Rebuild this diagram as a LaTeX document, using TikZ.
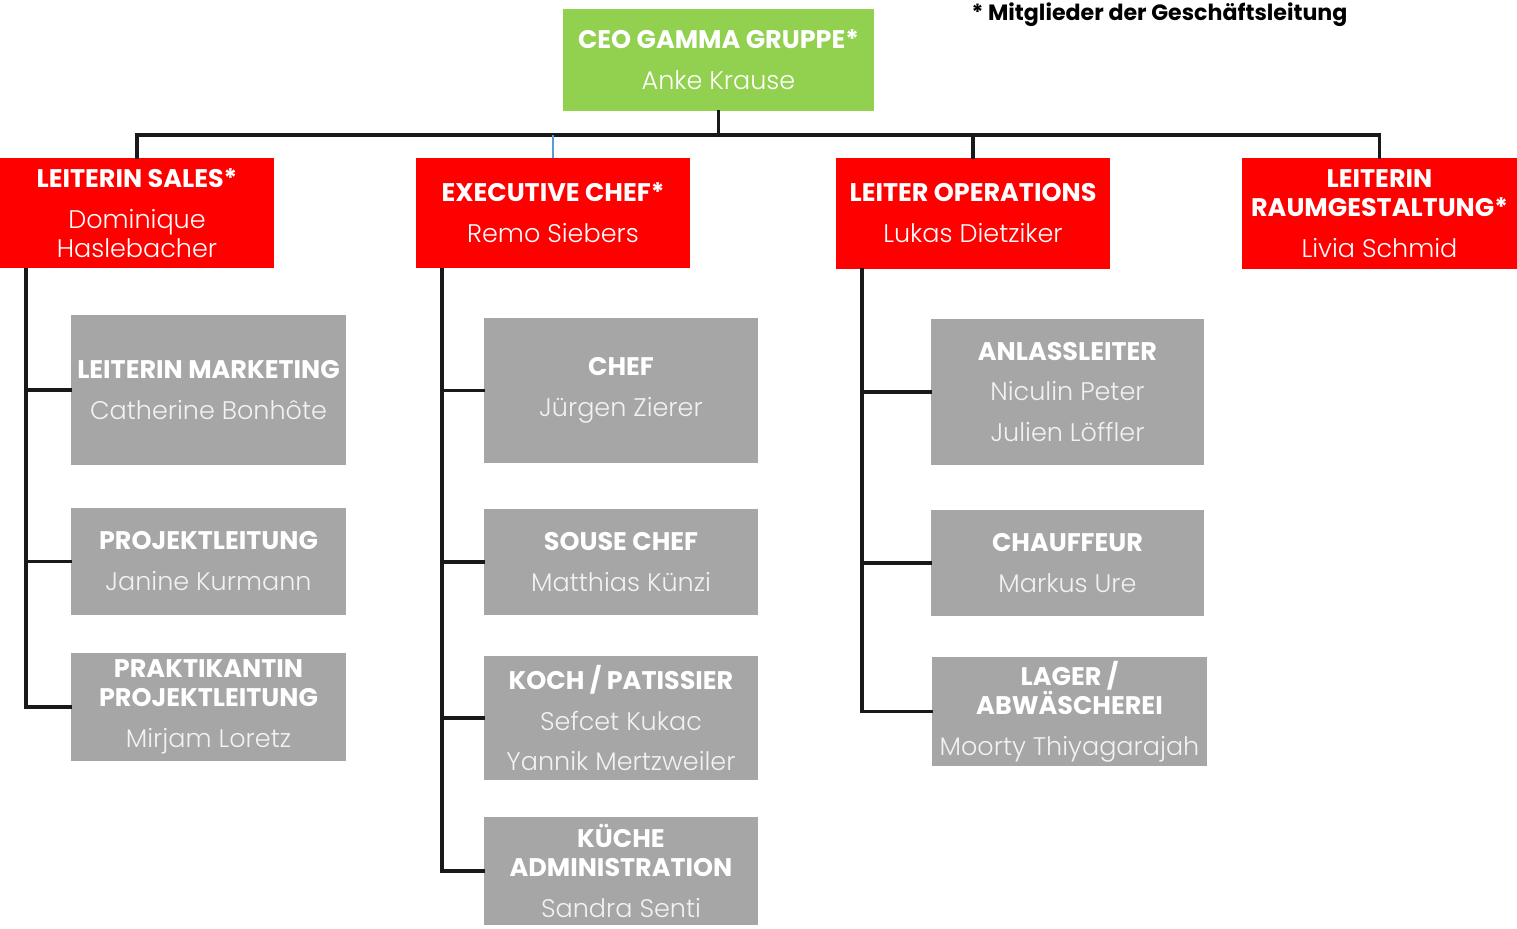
\documentclass[tikz,border=0pt]{standalone}
\usepackage{fontspec}
\setmainfont{Poppins}
\newfontfamily\namefont{Poppins}[UprightFont=* Light]
\begin{document}
\definecolor{ceogreen}{HTML}{92D050}
\definecolor{leadred}{HTML}{FF0000}
\definecolor{staffgray}{HTML}{A6A6A6}
\definecolor{namegray}{HTML}{F2F2F2}
\definecolor{linkblue}{HTML}{5B9BD5}
\begin{tikzpicture}[x=0.02cm, y=-0.02cm,
  box/.style={draw=none, align=center, inner sep=0pt,
    font={\fontsize{14.5}{16.5}\selectfont}},
  ceobox/.style={box, fill=ceogreen, minimum width=6.22cm, minimum height=2.04cm},
  leadbox/.style={box, fill=leadred, minimum width=5.48cm, minimum height=2.2cm},
  staffbox/.style={box, fill=staffgray, minimum width=5.48cm},
  conn/.style={line width=1.8pt, color=black!90, line cap=rect},
]
\newcommand{\ttl}[1]{{\bfseries\color{white}#1}}
\newcommand{\nm}[1]{{\namefont\color{white}#1}}
\newcommand{\gnm}[1]{{\namefont\color{namegray}#1}}
\newcommand{\gap}{\\[6.8pt]}
\useasboundingbox (0,0) rectangle (1517,929);

% top level
\node[ceobox] (ceo) at (718.5,60) {\ttl{CEO GAMMA GRUPPE*}\gap\nm{Anke Krause}};
\node[font={\bfseries\fontsize{12.6}{15}\selectfont}, inner sep=0pt] (note) at (1159.5,15) {* Mitglieder der Geschäftsleitung};

% department heads
\node[leadbox] (sales) at (137,213) {\ttl{LEITERIN SALES*}\gap\nm{Dominique}\\\nm{Haslebacher}};
\node[leadbox] (exec) at (553,213) {\ttl{EXECUTIVE CHEF*}\gap\nm{Remo Siebers}};
\node[leadbox, minimum height=2.22cm] (ops) at (973,213.5) {\ttl{LEITER OPERATIONS}\gap\nm{Lukas Dietziker}};
\node[leadbox, minimum height=2.22cm, minimum width=5.5cm] (raum) at (1379.5,213.5) {\ttl{LEITERIN}\\\ttl{RAUMGESTALTUNG*}\gap\nm{Livia Schmid}};

% sales team
\node[staffbox, minimum height=3.0cm, minimum width=5.5cm] (mark) at (208.5,390) {\ttl{LEITERIN MARKETING}\gap\gnm{Catherine Bonhôte}};
\node[staffbox, minimum height=2.14cm, minimum width=5.5cm] (proj) at (208.5,561.5) {\ttl{PROJEKTLEITUNG}\gap\gnm{Janine Kurmann}};
\node[staffbox, minimum height=2.16cm, minimum width=5.5cm] (prak) at (208.5,707) {\ttl{PRAKTIKANTIN}\\\ttl{PROJEKTLEITUNG}\gap\gnm{Mirjam Loretz}};

% kitchen team
\node[staffbox, minimum height=2.9cm] (chef) at (621,390.5) {\ttl{CHEF}\gap\gnm{Jürgen Zierer}};
\node[staffbox, minimum height=2.12cm] (souse) at (621,562) {\ttl{SOUSE CHEF}\gap\gnm{Matthias Künzi}};
\node[staffbox, minimum height=2.48cm] (koch) at (621,718) {\ttl{KOCH / PATISSIER}\gap\gnm{Sefcet Kukac}\gap\gnm{Yannik Mertzweiler}};
\node[staffbox, minimum height=2.16cm] (kueche) at (621,871) {\ttl{KÜCHE}\\\ttl{ADMINISTRATION}\gap\gnm{Sandra Senti}};

% operations team
\node[staffbox, minimum height=2.92cm, minimum width=5.46cm] (anlass) at (1067.5,392) {\ttl{ANLASSLEITER}\gap\gnm{Niculin Peter}\gap\gnm{Julien Löffler}};
\node[staffbox, minimum height=2.12cm, minimum width=5.46cm] (chauf) at (1067.5,563) {\ttl{CHAUFFEUR}\gap\gnm{Markus Ure}};
\node[staffbox, minimum height=2.18cm, minimum width=5.5cm] (lager) at (1069.5,711.5) {\ttl{LAGER /}\\\ttl{ABWÄSCHEREI}\gap\gnm{Moorty Thiyagarajah}};

% bus from the CEO to the department heads
\coordinate (bus) at (0,135);
\draw[conn] (ceo.south) -- (ceo.south |- bus);
\draw[conn] (sales.north) -- (sales.north |- bus) -- (raum.north |- bus) -- (raum.north);
\draw[conn] (ops.north) -- (ops.north |- bus);
\draw[line width=1.1pt, color=linkblue] (exec.north) -- (exec.north |- bus);

% team trunks
\coordinate (salesT) at (26,270);
\coordinate (execT) at (442,270);
\coordinate (opsT) at (862,270);
\draw[conn] (salesT) |- (prak.west);
\draw[conn] (salesT |- mark.west) -- (mark.west);
\draw[conn] (salesT |- proj.west) -- (proj.west);
\draw[conn] (execT) |- (kueche.west);
\draw[conn] (execT |- chef.west) -- (chef.west);
\draw[conn] (execT |- souse.west) -- (souse.west);
\draw[conn] (execT |- koch.west) -- (koch.west);
\draw[conn] (opsT) |- (lager.west);
\draw[conn] (opsT |- anlass.west) -- (anlass.west);
\draw[conn] (opsT |- chauf.west) -- (chauf.west);
\end{tikzpicture}
\end{document}
